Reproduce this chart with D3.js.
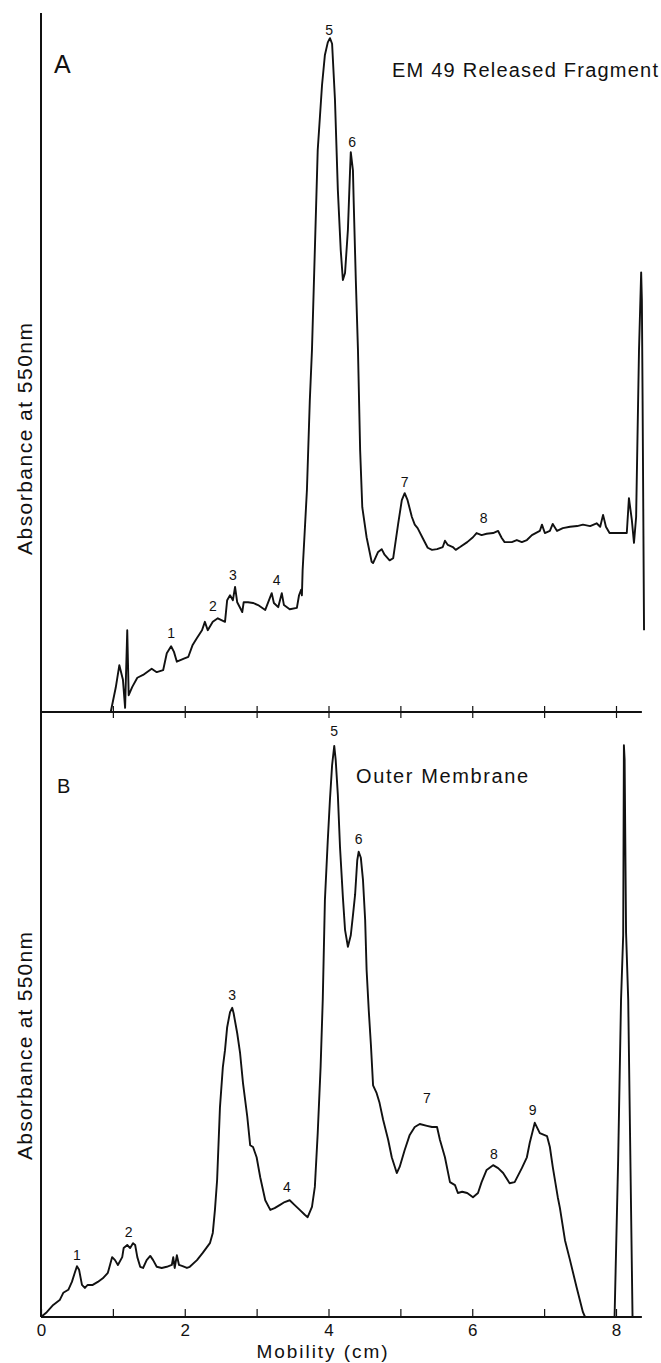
<!DOCTYPE html>
<html>
<head>
<meta charset="utf-8">
<script src="https://cdn.jsdelivr.net/npm/d3@7"></script>
<style>
  html, body { margin: 0; padding: 0; background: #fff; }
  svg { display: block; }
  text { font-family: "Liberation Sans", "DejaVu Sans", sans-serif; fill: #111; }
</style>
</head>
<body>
<svg id="chart" width="661" height="1363"></svg>
<script>
// ---------------- DATA ----------------
// Panel A: EM 49 Released Fragment  [mobility (cm), relative absorbance 0-100]
const mobilityA = [0.97,1.04,1.09,1.14,1.17,1.20,1.22,1.27,1.34,1.42,1.54,1.61,1.70,1.75,1.81,1.85,1.89,1.98,2.05,2.11,2.17,2.24,2.28,2.32,2.39,2.46,2.56,2.59,2.63,2.67,2.70,2.73,2.80,2.82,2.88,2.95,3.02,3.12,3.21,3.24,3.30,3.35,3.38,3.46,3.56,3.59,3.62,3.63,3.64,3.67,3.70,3.74,3.77,3.81,3.85,3.91,3.95,3.99,4.02,4.05,4.09,4.13,4.17,4.20,4.23,4.27,4.30,4.31,4.34,4.35,4.38,4.41,4.44,4.47,4.53,4.60,4.62,4.69,4.74,4.78,4.85,4.90,4.97,5.02,5.06,5.10,5.16,5.20,5.24,5.31,5.38,5.44,5.51,5.59,5.62,5.66,5.73,5.77,5.83,5.93,6.01,6.06,6.13,6.20,6.29,6.36,6.41,6.45,6.55,6.62,6.69,6.76,6.83,6.94,6.97,7.01,7.08,7.12,7.18,7.26,7.36,7.46,7.54,7.64,7.73,7.78,7.82,7.86,7.91,8.05,8.15,8.18,8.22,8.25,8.28,8.32,8.35,8.36,8.37,8.39];
const absorbA  = [0,3.5,6.7,4.6,0.6,11.7,2.4,3.6,4.9,5.3,6.2,5.7,6.0,8.4,9.4,8.6,7.2,7.6,7.9,9.6,10.6,11.7,12.9,11.7,12.9,13.4,12.9,16.0,16.7,16.0,17.9,15.7,14.3,15.7,15.7,15.6,15.3,14.6,17.0,15.6,15.0,17.0,15.3,14.7,14.9,16.7,17.5,16.7,20.3,26.0,31.8,44.6,51.8,66.1,80.4,89.7,94.0,95.8,96.4,95.6,87.6,74.7,66.1,61.8,62.8,69.0,77.5,80.1,77.5,73.2,61.8,51.8,37.5,29.3,25.0,21.5,21.3,22.9,23.3,22.5,21.7,22.0,27.0,30.3,31.3,30.3,27.9,26.8,26.3,24.9,23.5,23.2,23.3,23.6,24.5,23.9,23.6,23.2,23.6,24.3,25.0,25.6,25.3,25.5,25.6,25.9,24.9,24.3,24.3,24.6,24.3,24.6,25.3,25.9,26.8,25.6,25.9,26.9,25.9,26.3,26.5,26.6,26.8,26.6,27.0,26.5,28.2,26.5,25.6,25.6,25.6,30.6,27.5,24.2,27.9,51.8,62.9,58.9,44.6,11.7];

// Panel B: Outer Membrane
const mobilityB = [0,0.08,0.17,0.26,0.31,0.38,0.43,0.47,0.50,0.53,0.57,0.61,0.65,0.72,0.79,0.86,0.93,0.96,0.99,1.03,1.07,1.13,1.15,1.20,1.24,1.28,1.31,1.34,1.38,1.42,1.47,1.52,1.56,1.61,1.68,1.75,1.82,1.84,1.86,1.89,1.92,1.97,2.03,2.07,2.17,2.25,2.35,2.39,2.42,2.45,2.49,2.53,2.56,2.59,2.63,2.66,2.68,2.73,2.77,2.81,2.87,2.91,2.95,3.00,3.05,3.12,3.19,3.25,3.32,3.39,3.46,3.53,3.60,3.67,3.71,3.77,3.81,3.85,3.89,3.92,3.95,3.99,4.02,4.05,4.08,4.10,4.13,4.16,4.20,4.23,4.27,4.31,4.34,4.37,4.40,4.42,4.45,4.48,4.51,4.53,4.56,4.59,4.62,4.67,4.71,4.76,4.83,4.88,4.95,4.99,5.06,5.13,5.20,5.27,5.37,5.44,5.51,5.55,5.62,5.69,5.76,5.80,5.86,5.93,6.01,6.08,6.13,6.20,6.29,6.36,6.43,6.52,6.59,6.69,6.76,6.80,6.87,6.94,7.04,7.08,7.12,7.19,7.22,7.29,7.36,7.45,7.54,7.57,7.98,8.03,8.07,8.10,8.11,8.12,8.14,8.17,8.23];
const absorbB  = [0,0.8,2.0,2.8,4.0,4.5,5.8,7.3,8.4,7.8,5.3,4.8,5.3,5.3,5.8,6.4,7.3,8.6,9.9,9.4,8.6,9.9,11.4,11.9,11.4,12.2,11.9,9.9,8.3,8.1,9.4,10.1,9.4,8.3,8.1,8.3,8.6,9.9,8.1,10.2,8.6,8.4,8.1,8.3,9.4,10.6,12.2,13.9,17.7,22.6,34.7,41.3,44.1,47.9,50.4,51.1,50.2,46.9,43.6,38.7,33.1,28.4,28.1,26.4,23.1,19.3,17.7,18.0,18.5,19.0,19.3,18.5,17.7,16.9,16.5,18.2,21.5,30.4,41.3,52.4,68.9,78.8,85.5,91.2,94.4,92.1,86.3,77.7,69.4,64.0,61.2,63.1,66.4,69.8,75.5,76.9,75.9,72.2,65.6,57.4,50.7,45.0,38.3,37.0,35.4,32.6,29.3,26.4,23.8,24.8,27.6,30.1,31.4,31.9,31.6,31.4,31.4,29.3,26.4,22.3,21.8,20.5,20.7,20.5,19.8,20.5,22.3,24.3,25.1,24.6,23.8,22.1,22.3,24.6,26.4,28.8,32.1,30.4,29.9,28.1,24.8,19.8,18.0,12.7,9.4,5.0,0.8,0,0,26.0,52.4,63.1,94.5,92.1,63.5,52.4,0];

// Peak numbers [label, mobility, absorbance position]
const peakLabelsA = ["1","2","3","4","5","6","7","8"];
const peakXA = [1.81,2.39,2.67,3.28,4.01,4.33,5.06,6.16];
const peakYA = [11.3,15.2,19.6,18.9,97.6,81.5,32.9,27.8];
const peakLabelsB = ["1","2","3","4","5","6","7","8","9"];
const peakXB = [0.50,1.22,2.66,3.42,4.08,4.42,5.37,6.30,6.84];
const peakYB = [10.2,14.0,53.2,21.5,96.9,79.0,36.2,26.9,34.2];

const tickValues = [0,1,2,3,4,5,6,7,8];
const tickLabels = ["0","","2","","4","","6","","8"];
const panelTitles = ["EM 49 Released Fragment", "Outer Membrane"];
const panelLetters = ["A", "B"];
const yLabel = "Absorbance at 550nm";
const xLabel = "Mobility (cm)";

// ---------------- SCALES ----------------
const svg = d3.select("#chart");
const x = d3.scaleLinear().domain([0, 8]).range([41, 616]);
const yA = d3.scaleLinear().domain([0, 100]).range([712, 13]);
const yB = d3.scaleLinear().domain([0, 100]).range([1317, 712]);
const xEnd = 8.36;

const seriesA = mobilityA.map((m, i) => [m, absorbA[i]]);
const seriesB = mobilityB.map((m, i) => [m, absorbB[i]]);

// ---------------- AXES ----------------
// y axis (shared vertical line)
svg.append("line")
  .attr("x1", x(0)).attr("x2", x(0))
  .attr("y1", yA(100)).attr("y2", yB(0))
  .attr("stroke", "#111").attr("stroke-width", 2);

// Panel A x-axis (crossing ticks, no labels)
const axA = svg.append("g").attr("transform", `translate(0,${yA(0)})`)
  .call(d3.axisBottom(x).tickValues(tickValues.slice(1)).tickSizeInner(6).tickSizeOuter(0).tickFormat(""));
axA.select(".domain").remove();
axA.selectAll(".tick line").attr("y1", -6).attr("y2", 6).attr("stroke", "#111").attr("stroke-width", 1.2);
svg.append("line").attr("x1", x(0)).attr("x2", x(xEnd))
  .attr("y1", yA(0)).attr("y2", yA(0)).attr("stroke", "#111").attr("stroke-width", 2);

// Panel B x-axis (bottom, ticks upward, labels)
const axB = svg.append("g").attr("transform", `translate(0,${yB(0)})`)
  .call(d3.axisBottom(x).tickValues(tickValues).tickSizeInner(-8).tickSizeOuter(0)
    .tickPadding(16).tickFormat((d, i) => tickLabels[i]));
axB.select(".domain").remove();
axB.selectAll(".tick line").attr("stroke", "#111").attr("stroke-width", 1.2);
axB.selectAll(".tick text")
  .attr("font-size", 17).attr("font-family", "Liberation Sans, DejaVu Sans, sans-serif")
  .attr("fill", "#111").attr("dy", "0.2em");
svg.append("line").attr("x1", x(0)).attr("x2", x(xEnd))
  .attr("y1", yB(0)).attr("y2", yB(0)).attr("stroke", "#111").attr("stroke-width", 2);

// ---------------- CURVES ----------------
const lineA = d3.line().x(d => x(d[0])).y(d => yA(d[1]));
const lineB = d3.line().x(d => x(d[0])).y(d => yB(d[1]));
svg.append("path").datum(seriesA).attr("d", lineA)
  .attr("fill", "none").attr("stroke", "#111").attr("stroke-width", 1.9).attr("stroke-linejoin", "round");
svg.append("path").datum(seriesB).attr("d", lineB)
  .attr("fill", "none").attr("stroke", "#111").attr("stroke-width", 1.9).attr("stroke-linejoin", "round");

// ---------------- PEAK LABELS ----------------
svg.selectAll(".plA").data(peakLabelsA).enter().append("text")
  .attr("x", (d, i) => x(peakXA[i])).attr("y", (d, i) => yA(peakYA[i]))
  .attr("text-anchor", "middle").attr("dominant-baseline", "central")
  .attr("font-size", 14).text(d => d);
svg.selectAll(".plB").data(peakLabelsB).enter().append("text")
  .attr("x", (d, i) => x(peakXB[i])).attr("y", (d, i) => yB(peakYB[i]))
  .attr("text-anchor", "middle").attr("dominant-baseline", "central")
  .attr("font-size", 14).text(d => d);

// ---------------- TEXT ----------------
svg.append("text").attr("x", 54).attr("y", 73).attr("font-size", 25).text(panelLetters[0]);
svg.append("text").attr("x", 57).attr("y", 793).attr("font-size", 20).text(panelLetters[1]);

svg.append("text").attr("x", 392).attr("y", 77).attr("font-size", 20)
  .attr("textLength", 266).attr("lengthAdjust", "spacing").text(panelTitles[0]);
svg.append("text").attr("x", 356).attr("y", 783).attr("font-size", 20)
  .attr("textLength", 172).attr("lengthAdjust", "spacing").text(panelTitles[1]);

svg.append("text").attr("transform", "translate(32,439) rotate(-90)")
  .attr("text-anchor", "middle").attr("font-size", 21)
  .attr("textLength", 232).attr("lengthAdjust", "spacing").text(yLabel);
svg.append("text").attr("transform", "translate(32,1046) rotate(-90)")
  .attr("text-anchor", "middle").attr("font-size", 21)
  .attr("textLength", 228).attr("lengthAdjust", "spacing").text(yLabel);

svg.append("text").attr("x", 322).attr("y", 1358).attr("text-anchor", "middle")
  .attr("font-size", 19).attr("textLength", 131).attr("lengthAdjust", "spacing").text(xLabel);
</script>
</body>
</html>
